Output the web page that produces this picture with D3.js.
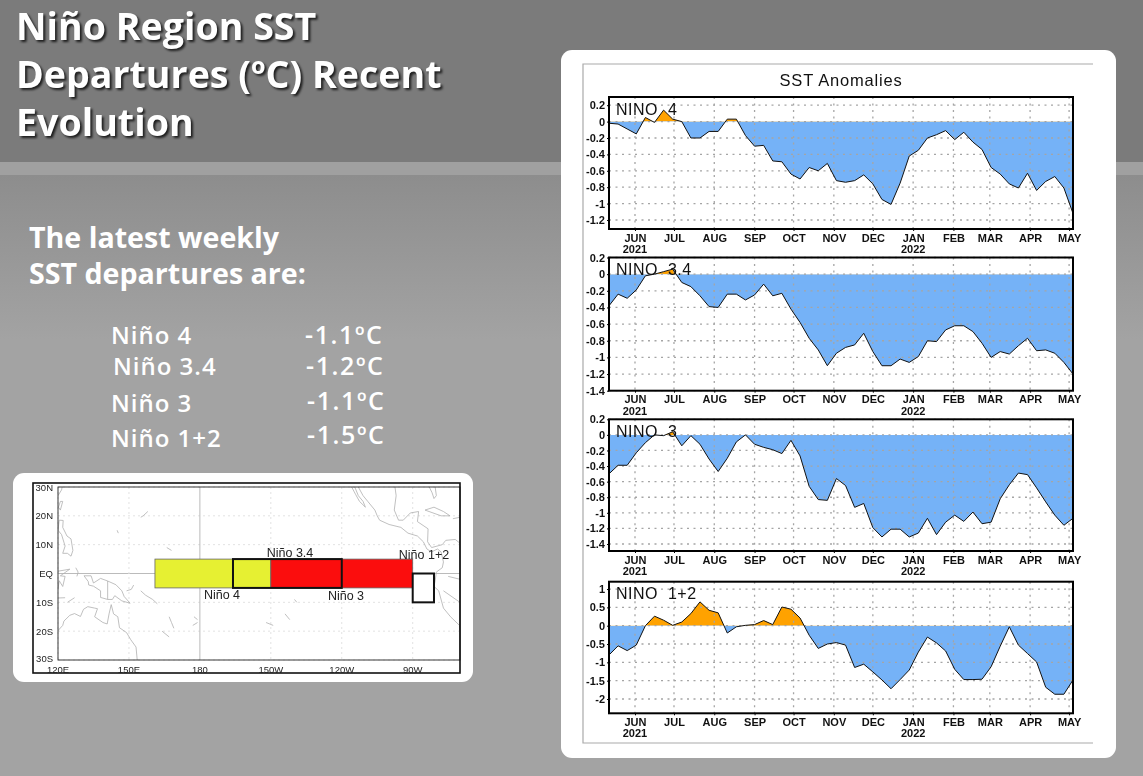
<!DOCTYPE html>
<html>
<head>
<meta charset="utf-8">
<script src="https://cdn.jsdelivr.net/npm/d3@7"></script>
<style>
  html, body { margin: 0; padding: 0; background: #a3a3a3; }
  svg { display: block; }
  .slide-text { font-family: "Open Sans", "Lato", sans-serif; font-weight: 700; fill: #fff; }
  .slide-row { font-family: "Open Sans", "Lato", sans-serif; font-weight: 600; fill: #fff; }
  .shadow { filter: drop-shadow(2px 2px 1px rgba(20, 20, 20, 0.9)); }
  .soft { filter: blur(0.3px); }
  .plot-axis text { font-family: "Liberation Sans", sans-serif; font-weight: 700; font-size: 11px; fill: #111; }
  .plot-axis path { display: none; }
  .plot-axis line { stroke: #000; }
  .map-text { font-family: "Liberation Sans", sans-serif; fill: #222; }
</style>
</head>
<body>
<svg id="chart" width="1143" height="776"></svg>
<script>
// weekly values
const nino4 = [-0.02, -0.03, -0.09, -0.15, 0.05, -0.01, 0.14, 0.03, 0, -0.2, -0.2, -0.12, -0.12, 0.03, 0.03, -0.17, -0.3, -0.29, -0.48, -0.49, -0.64, -0.7, -0.56, -0.6, -0.51, -0.72, -0.74, -0.72, -0.65, -0.76, -0.95, -1.01, -0.75, -0.42, -0.35, -0.2, -0.16, -0.11, -0.22, -0.13, -0.25, -0.34, -0.56, -0.64, -0.76, -0.81, -0.63, -0.84, -0.73, -0.67, -0.81, -1.12];
const nino34 = [-0.38, -0.24, -0.29, -0.19, -0.02, 0, 0.03, 0.06, -0.1, -0.15, -0.26, -0.39, -0.4, -0.24, -0.24, -0.31, -0.25, -0.12, -0.26, -0.23, -0.42, -0.58, -0.77, -0.91, -1.1, -0.95, -0.88, -0.85, -0.71, -0.93, -1.1, -1.1, -1.02, -1.06, -0.99, -0.8, -0.81, -0.67, -0.62, -0.62, -0.69, -0.83, -1, -0.93, -0.96, -0.86, -0.77, -0.92, -0.91, -0.95, -1.06, -1.2];
const nino3 = [-0.5, -0.39, -0.39, -0.23, -0.1, 0, -0.01, 0.04, -0.14, -0.01, -0.12, -0.31, -0.47, -0.3, -0.09, 0, -0.12, -0.16, -0.19, -0.24, -0.07, -0.27, -0.66, -0.83, -0.84, -0.56, -0.65, -0.93, -0.88, -1.19, -1.31, -1.21, -1.21, -1.31, -1.26, -1.07, -1.28, -1.12, -1.03, -1.11, -0.99, -1.14, -1.12, -0.82, -0.64, -0.49, -0.51, -0.68, -0.86, -1.03, -1.16, -1.07];
const nino12 = [-0.8, -0.55, -0.68, -0.53, 0, 0.26, 0.15, 0.01, 0.1, 0.33, 0.65, 0.42, 0.35, -0.2, -0.03, 0.01, 0.03, 0.14, 0.03, 0.51, 0.45, 0.21, -0.26, -0.62, -0.5, -0.46, -0.53, -1.14, -1.05, -1.26, -1.48, -1.72, -1.47, -1.21, -0.72, -0.31, -0.47, -0.69, -1.19, -1.47, -1.47, -1.46, -1.12, -0.56, -0.03, -0.53, -0.76, -0.99, -1.68, -1.87, -1.87, -1.48];

const ticks4 = [0.2, 0, -0.2, -0.4, -0.6, -0.8, -1, -1.2];
const ticks34 = [0.2, 0, -0.2, -0.4, -0.6, -0.8, -1, -1.2, -1.4];
const ticks3 = [0.2, 0, -0.2, -0.4, -0.6, -0.8, -1, -1.2, -1.4];
const ticks12 = [1, 0.5, 0, -0.5, -1, -1.5, -2];

const monthStarts = ["2021-06-01", "2021-07-01", "2021-08-01", "2021-09-01", "2021-10-01", "2021-11-01", "2021-12-01", "2022-01-01", "2022-02-01", "2022-03-01", "2022-04-01", "2022-05-01"];
const monthNames = ["JUN", "JUL", "AUG", "SEP", "OCT", "NOV", "DEC", "JAN", "FEB", "MAR", "APR", "MAY"];
const yearLabels = [["2021-06-01", "2021"], ["2022-01-01", "2022"]];

const regionNames = ["Niño 4", "Niño 3.4", "Niño 3", "Niño 1+2"];
const latestValues = ["-1.1ºC", "-1.2ºC", "-1.1ºC", "-1.5ºC"];

// map: lon in degrees east, lat in degrees north
const lonTicks = [120, 150, 180, 210, 240, 270];
const lonLabels = ["120E", "150E", "180", "150W", "120W", "90W"];
const latTicks = [30, 20, 10, 0, -10, -20, -30];
const latLabels = ["30N", "20N", "10N", "EQ", "10S", "20S", "30S"];
const coasts = [
  [[120, -19.8], [122, -18], [122.5, -16.5], [125, -14.5], [127, -13.9], [129.5, -14.9], [130.8, -12.4], [132.6, -11.5], [135.5, -12], [136.7, -12.2], [135.5, -15], [139, -17], [140.8, -17.5], [141.6, -14], [142.5, -10.8], [143.5, -14], [145.3, -15], [146, -18.8], [149, -20.5], [150.8, -23], [153, -25.5], [153.5, -30]],
  [[131, -0.8], [134, -0.8], [135, -3.3], [138, -1.7], [141, -2.6], [144.5, -3.9], [147, -6], [148, -8], [150.5, -10.3], [147, -9.5], [144, -7.7], [143, -9], [141, -9], [138, -8.3], [138, -6], [135, -4.4], [133, -4], [132.8, -2.8], [131, -0.8]],
  [[141, -2.6], [141, -9]],
  [[120.5, 18.5], [122.2, 18.4], [122, 16], [123.8, 13], [125.5, 12], [126.3, 8], [125.5, 6], [124, 7], [122, 7], [123, 9.5], [121.5, 13.5], [120, 15], [120.5, 18.5]],
  [[120, 0.8], [125, 1.5], [121, -0.8], [123, -1], [122, -4.5], [120.5, -2.5], [120, -5.5]],
  [[127.5, 2], [128.5, 0.5], [128, -1]], [[124, -10], [127, -8.4]], [[120, -8.5], [123, -8.4]],
  [[120, 27], [121.5, 29], [122, 31]], [[121, 25], [122, 25], [121, 22], [120.2, 23], [121, 25]],
  [[152, -4], [151, -5.5], [149, -6]], [[155, -6], [157, -7.5], [160, -9], [162, -10.5]],
  [[167, -15], [168, -17], [169, -19]], [[164, -20], [167, -22]], [[177, -18], [179, -17]], [[177.5, -15], [179, -16]],
  [[155, 19.5], [156, 20], [158, 21.5]], [[166, 9], [168, 8]], [[145, 15], [145.5, 14]],
  [[208, -17], [211, -18]], [[216, -14], [218, -16]], [[220, -9], [221, -10]],
  [[244.2, 30], [245.8, 27.5], [247.5, 25], [250, 23], [249, 25], [247, 27], [245.5, 30]],
  [[247, 30], [249, 27], [251, 25], [254, 22], [255, 20], [256, 18.5], [260, 17], [265, 16], [268, 14], [272, 13], [274.5, 11], [276, 8.5], [278, 7.5], [280.5, 8.5], [282, 7.5], [283, 4], [282.5, 2], [280, 0.5], [279.5, -2.5], [279, -4.5], [281, -6], [283, -12], [286, -15], [289.8, -18], [290, -20]],
  [[262.5, 30], [263, 27], [262.2, 22], [264, 18.5], [266, 18.5], [269, 21], [272.5, 21.5], [272, 18], [276.5, 15.5], [276.3, 11], [278, 9], [282.5, 10], [284, 11.5], [288, 11.8], [290, 10.5]],
  [[277, 30], [278.2, 28], [279, 26], [280, 27], [279.5, 30]],
  [[275.2, 22], [279, 23], [283, 21.5], [285.8, 20], [282, 20], [275.2, 22]],
  [[287, 19], [290, 19.5]], [[269, -0.5], [270.5, -0.5]],
  [[285, -1], [290, -2]], [[283, -6], [290, -10]]
];
// boxes: [lon0, lon1, lat0, lat1]
const yellowBox = [161, 210, -5, 5];
const redBox = [210, 270, -5, 5];
const box34 = [194, 240, -5, 5];
const box12 = [270, 279, -10, 0];

const svg = d3.select("#chart");
const defs = svg.append("defs");

// slide background
const lowGrad = defs.append("linearGradient").attr("id", "lowGrad")
  .attr("gradientUnits", "userSpaceOnUse").attr("x1", 0).attr("x2", 0).attr("y1", 175).attr("y2", 340);
lowGrad.append("stop").attr("offset", 0).attr("stop-color", "#8d8d8d");
lowGrad.append("stop").attr("offset", 1).attr("stop-color", "#a3a3a3");

svg.append("rect").attr("width", 1143).attr("height", 776).attr("fill", "url(#lowGrad)");
svg.append("rect").attr("width", 1143).attr("height", 162).attr("fill", "#7b7b7b");
svg.append("rect").attr("y", 162).attr("width", 1143).attr("height", 13).attr("fill", "#a0a0a0");

// title and text block
const titleLines = ["Niño Region SST", "Departures (ºC) Recent", "Evolution"];
svg.append("g").attr("class", "shadow").selectAll("text").data(titleLines).join("text")
  .attr("class", "slide-text")
  .attr("x", 16)
  .attr("y", (d, i) => 40 + i * 48)
  .attr("font-size", 37.6)
  .text(d => d);

const introLines = ["The latest weekly", "SST departures are:"];
svg.selectAll(".intro").data(introLines).join("text")
  .attr("class", "slide-text intro")
  .attr("x", 29)
  .attr("y", (d, i) => 248 + i * 36)
  .attr("font-size", 28.6)
  .text(d => d);

const rowY = [344, 375, 412, 447];
const rowX = [111, 113, 111, 111];
const valY = [344, 375, 410, 444];
const valX = [305, 306, 307, 307];
svg.selectAll(".region").data(regionNames).join("text")
  .attr("class", "slide-row region")
  .attr("x", (d, i) => rowX[i])
  .attr("y", (d, i) => rowY[i])
  .attr("font-size", 24)
  .attr("letter-spacing", 1)
  .text(d => d);
svg.selectAll(".latest").data(latestValues).join("text")
  .attr("class", "slide-row latest")
  .attr("x", (d, i) => valX[i])
  .attr("y", (d, i) => valY[i])
  .attr("font-size", 25)
  .attr("letter-spacing", 1.6)
  .text(d => d);

// white panels
svg.append("rect").attr("x", 561).attr("y", 50).attr("width", 555).attr("height", 708).attr("rx", 11).attr("fill", "#fff");
svg.append("rect").attr("x", 13).attr("y", 473).attr("width", 460).attr("height", 209).attr("rx", 11).attr("fill", "#fff");
svg.append("path").attr("d", "M1093,64H583V743H1093").attr("fill", "none").attr("stroke", "#aaa").attr("stroke-width", 1.2);

svg.append("text")
  .attr("class", "soft")
  .attr("x", 841).attr("y", 86)
  .attr("text-anchor", "middle")
  .attr("font-family", "Liberation Sans, sans-serif")
  .attr("font-size", 16.5)
  .attr("letter-spacing", 0.8)
  .attr("fill", "#111")
  .text("SST Anomalies");

// time series panels
const parseDay = d3.utcParse("%Y-%m-%d");
const weeks = nino4.map((d, i) => d3.utcDay.offset(parseDay("2021-05-12"), i * 7));
const x = d3.scaleUtc().domain([weeks[0], weeks[weeks.length - 1]]).range([609, 1073]);
const monthDates = monthStarts.map(parseDay);

function drawPanel(id, label, values, ticks, yDomain, top, bottom) {
  const y = d3.scaleLinear().domain(yDomain).range([top, bottom]);
  const g = svg.append("g").attr("class", "soft");
  const area = d3.area().x((d, i) => x(weeks[i])).y0(y(0)).y1(d => y(d));
  const line = d3.line().x((d, i) => x(weeks[i])).y(d => y(d));

  defs.append("clipPath").attr("id", id + "-pos").append("rect")
    .attr("x", x.range()[0]).attr("width", x.range()[1] - x.range()[0])
    .attr("y", top).attr("height", y(0) - top);
  defs.append("clipPath").attr("id", id + "-neg").append("rect")
    .attr("x", x.range()[0]).attr("width", x.range()[1] - x.range()[0])
    .attr("y", y(0)).attr("height", bottom - y(0));

  g.append("path").datum(values).attr("d", area).attr("fill", "#ffa200").attr("clip-path", `url(#${id}-pos)`);
  g.append("path").datum(values).attr("d", area).attr("fill", "#75b2f7").attr("clip-path", `url(#${id}-neg)`);

  // dotted grid sits over the fill
  g.append("g").selectAll("line").data(ticks).join("line")
    .attr("x1", x.range()[0]).attr("x2", x.range()[1])
    .attr("y1", d => y(d)).attr("y2", d => y(d))
    .attr("stroke", "#a5a5a5").attr("stroke-width", 1.3).attr("stroke-dasharray", "2,4.5");
  g.append("g").selectAll("line").data(monthDates).join("line")
    .attr("x1", d => x(d)).attr("x2", d => x(d))
    .attr("y1", top).attr("y2", bottom)
    .attr("stroke", "#a5a5a5").attr("stroke-width", 1.3).attr("stroke-dasharray", "2,4.5");

  g.append("path").datum(values).attr("d", line).attr("fill", "none").attr("stroke", "#111").attr("stroke-width", 1);
  g.append("rect").attr("x", x.range()[0]).attr("y", top)
    .attr("width", x.range()[1] - x.range()[0]).attr("height", bottom - top)
    .attr("fill", "none").attr("stroke", "#000").attr("stroke-width", 2);

  g.append("g").attr("class", "plot-axis").attr("transform", `translate(${x.range()[0]},0)`)
    .call(d3.axisLeft(y).tickValues(ticks).tickSize(2).tickPadding(2).tickFormat(String));
  const xAxis = g.append("g").attr("class", "plot-axis").attr("transform", `translate(0,${bottom})`)
    .call(d3.axisBottom(x).tickValues(monthDates).tickSize(2).tickPadding(3).tickFormat((d, i) => monthNames[i]));
  xAxis.selectAll(".year").data(yearLabels).join("text")
    .attr("class", "year")
    .attr("x", d => x(parseDay(d[0])))
    .attr("y", 24)
    .attr("text-anchor", "middle")
    .text(d => d[1]);

  g.append("text").attr("x", 616).attr("y", top + 17.5)
    .attr("font-family", "Liberation Sans, sans-serif").attr("font-size", 16)
    .attr("fill", "#111").style("white-space", "pre").attr("letter-spacing", 0.5)
    .text(label);
}

drawPanel("p4", "NINO  4", nino4, ticks4, [0.3, -1.31], 97, 229);
drawPanel("p34", "NINO  3.4", nino34, ticks34, [0.2, -1.4], 257.5, 390.7);
drawPanel("p3", "NINO  3", nino3, ticks3, [0.2, -1.49], 419.3, 551);
drawPanel("p12", "NINO  1+2", nino12, ticks12, [1.2, -2.39], 581.7, 713.3);

// region map
const mapX = d3.scaleLinear().domain([120, 290]).range([58, 460]);
const mapY = d3.scaleLinear().domain([30, -30]).range([487, 660]);
const map = svg.append("g").attr("class", "soft");
defs.append("clipPath").attr("id", "mapClip").append("rect")
  .attr("x", 58).attr("y", 487).attr("width", 402).attr("height", 173);

map.append("g").selectAll("line").data(latTicks).join("line")
  .attr("x1", mapX(120)).attr("x2", mapX(290)).attr("y1", d => mapY(d)).attr("y2", d => mapY(d))
  .attr("stroke", d => d === 0 ? "#bbb" : "#e2e2e2").attr("stroke-dasharray", d => d === 0 ? null : "2,3");
map.append("g").selectAll("line").data(lonTicks).join("line")
  .attr("x1", d => mapX(d)).attr("x2", d => mapX(d)).attr("y1", mapY(30)).attr("y2", mapY(-30))
  .attr("stroke", d => d === 180 ? "#bbb" : "#e2e2e2").attr("stroke-dasharray", d => d === 180 ? null : "2,3");

const coastLine = d3.line().x(d => mapX(d[0])).y(d => mapY(d[1]));
map.append("g").attr("clip-path", "url(#mapClip)")
  .selectAll("path").data(coasts).join("path")
  .attr("d", coastLine).attr("fill", "none").attr("stroke", "#b0b0b0").attr("stroke-width", 0.8);

const drawBox = (b, fill, stroke, width) => map.append("rect")
  .attr("x", mapX(b[0])).attr("width", mapX(b[1]) - mapX(b[0]))
  .attr("y", mapY(b[3])).attr("height", mapY(b[2]) - mapY(b[3]))
  .attr("fill", fill).attr("stroke", stroke).attr("stroke-width", width);
drawBox(yellowBox, "#e6f032", "#666", 0.8);
drawBox(redBox, "#fb0d0d", "#666", 0.8);
drawBox(box34, "none", "#111", 2);
drawBox(box12, "#fff", "#111", 2);

map.append("rect").attr("x", 58).attr("y", 487).attr("width", 402).attr("height", 173).attr("fill", "none").attr("stroke", "#222").attr("stroke-width", 0.9);
map.append("rect").attr("x", 33).attr("y", 483).attr("width", 427).attr("height", 190).attr("fill", "none").attr("stroke", "#111").attr("stroke-width", 1.6);

map.append("g").selectAll("text").data(latLabels).join("text")
  .attr("class", "map-text")
  .attr("x", 53).attr("y", (d, i) => mapY(latTicks[i]) + (latTicks[i] === -30 ? 1.5 : 3.5))
  .attr("text-anchor", "end").attr("font-size", 9.5).text(d => d);
map.append("g").selectAll("text").data(lonLabels).join("text")
  .attr("class", "map-text")
  .attr("x", (d, i) => mapX(lonTicks[i])).attr("y", 672.5)
  .attr("text-anchor", "middle").attr("font-size", 9.5).text(d => d);

const mapLabelX = [222, 290, 346, 424];
const mapLabelY = [599, 557, 600, 559];
map.append("g").selectAll("text").data(regionNames).join("text")
  .attr("class", "map-text")
  .attr("x", (d, i) => mapLabelX[i]).attr("y", (d, i) => mapLabelY[i])
  .attr("text-anchor", "middle").attr("font-size", 12.5).text(d => d);
</script>
</body>
</html>
